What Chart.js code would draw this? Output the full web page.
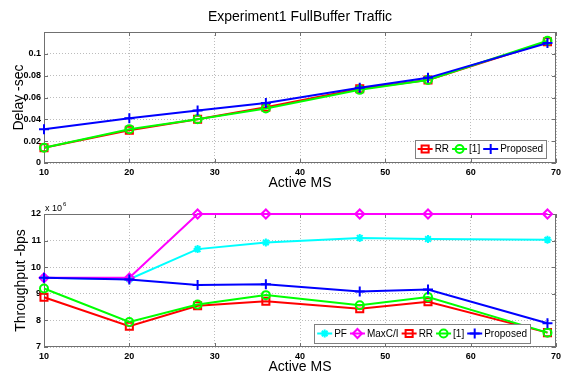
<!DOCTYPE html>
<html>
<head>
<meta charset="utf-8">
<script src="https://cdn.jsdelivr.net/npm/chart.js@4.4.0/dist/chart.umd.min.js"></script>
<style>
    body { margin: 0; background: #fff; overflow: hidden; }
    .box { position: absolute; left: 0; width: 567px; }
</style>
</head>
<body>
<div class="box" style="top:0;height:190px"><canvas id="delayChart"></canvas></div>
<div class="box" style="top:190px;height:182px"><canvas id="tputChart"></canvas></div>
<script>
// x values (number of active MS)
var activeMS = [10, 20, 28, 36, 47, 55, 69];
var xTicks = [10, 20, 30, 40, 50, 60, 70];

// Delay in seconds
var delayRR = [0.014, 0.030, 0.040, 0.051, 0.068, 0.076, 0.111];
var delayRef1 = [0.014, 0.031, 0.040, 0.050, 0.067, 0.076, 0.112];
var delayProposed = [0.031, 0.041, 0.048, 0.055, 0.069, 0.078, 0.110];
var delayTicks = [0, 0.02, 0.04, 0.06, 0.08, 0.1];

// Throughput in units of 10^6 bps
var tputPF = [9.6, 9.55, 10.68, 10.93, 11.1, 11.06, 11.03];
var tputMaxCI = [9.6, 9.6, 12, 12, 12, 12, 12];
var tputRR = [8.87, 7.78, 8.55, 8.72, 8.44, 8.7, 7.54];
var tputRef1 = [9.2, 7.94, 8.6, 8.95, 8.57, 8.88, 7.54];
var tputProposed = [9.6, 9.54, 9.33, 9.36, 9.09, 9.16, 7.89];
var tputTicks = [7, 8, 9, 10, 11, 12];

Chart.defaults.font.family = "'Liberation Sans', Arial, sans-serif";
Chart.defaults.color = '#000';

function pts(ys) {
    return ys.map(function (y, i) { return { x: activeMS[i], y: y }; });
}

function series(label, ys, color, style, radius, n) {
    return {
        label: label,
        data: pts(ys),
        borderColor: color,
        backgroundColor: 'rgba(0,0,0,0)',
        borderWidth: 2,
        pointStyle: style,
        pointRadius: radius,
        pointBorderWidth: 2,
        pointBackgroundColor: 'rgba(0,0,0,0)',
        tension: 0,
        clip: false,
        order: n
    };
}

// MATLAB-like box with inward tick marks
var axesBox = {
    id: 'axesBox',
    beforeDatasetsDraw: function (chart) {
        var ctx = chart.ctx, a = chart.chartArea;
        ctx.save();
        ctx.strokeStyle = '#707070';
        ctx.lineWidth = 1;
        ctx.strokeRect(a.left + 0.5, a.top + 0.5, a.right - a.left - 1, a.bottom - a.top - 1);
        ctx.beginPath();
        chart.scales.x.ticks.forEach(function (t) {
            var px = Math.round(chart.scales.x.getPixelForValue(t.value)) + 0.5;
            ctx.moveTo(px, a.bottom); ctx.lineTo(px, a.bottom - 4);
            ctx.moveTo(px, a.top); ctx.lineTo(px, a.top + 4);
        });
        chart.scales.y.ticks.forEach(function (t) {
            var py = Math.round(chart.scales.y.getPixelForValue(t.value)) + 0.5;
            ctx.moveTo(a.left, py); ctx.lineTo(a.left + 4, py);
            ctx.moveTo(a.right, py); ctx.lineTo(a.right - 4, py);
        });
        ctx.stroke();
        ctx.restore();
    }
};

// legend drawn inside the plot, lower right
var boxLegend = {
    id: 'boxLegend',
    afterDraw: function (chart, args, opts) {
        var ctx = chart.ctx, a = chart.chartArea;
        var items = chart.data.datasets;
        var lineLen = 15, gap = 2, itemGap = 3, pad = 3;
        ctx.save();
        ctx.font = opts.font;
        var widths = items.map(function (ds) { return lineLen + gap + ctx.measureText(ds.label).width; });
        var total = pad * 2 + itemGap * (items.length - 1);
        widths.forEach(function (w) { total += w; });
        var right = a.right - opts.right, bottom = a.bottom - opts.bottom;
        var left = right - total, top = bottom - opts.height;
        ctx.fillStyle = '#fff';
        ctx.fillRect(left, top, total, opts.height);
        ctx.strokeStyle = '#808080';
        ctx.lineWidth = 1;
        ctx.strokeRect(Math.round(left) + 0.5, Math.round(top) + 0.5, Math.round(total), Math.round(opts.height));
        var x = left + pad, cy = top + opts.height / 2;
        items.forEach(function (ds, i) {
            ctx.strokeStyle = ds.borderColor;
            ctx.fillStyle = 'rgba(0,0,0,0)';
            ctx.lineWidth = 2;
            ctx.beginPath();
            ctx.moveTo(x, cy); ctx.lineTo(x + lineLen, cy);
            ctx.stroke();
            Chart.helpers.drawPoint(ctx, {
                pointStyle: ds.pointStyle, radius: ds.pointRadius, borderWidth: 2, rotation: 0
            }, x + lineLen / 2, cy);
            ctx.fillStyle = '#000';
            ctx.textBaseline = 'middle';
            ctx.fillText(ds.label, x + lineLen + gap, cy + 0.5);
            x += widths[i] + itemGap;
        });
        ctx.restore();
    }
};

// "x 10^6" multiplier above the y axis
var expLabel = {
    id: 'expLabel',
    afterDraw: function (chart) {
        var ctx = chart.ctx, a = chart.chartArea;
        ctx.save();
        ctx.fillStyle = '#000';
        ctx.textBaseline = 'alphabetic';
        ctx.font = "9px 'Liberation Sans', Arial, sans-serif";
        ctx.fillText('x 10', a.left + 1, a.top - 3);
        var w = ctx.measureText('x 10').width;
        ctx.font = "6px 'Liberation Sans', Arial, sans-serif";
        ctx.fillText('6', a.left + 2 + w, a.top - 8);
        ctx.restore();
    }
};

var tickFont = { size: 9, weight: 'bold' };

function xAxis(height, titlePad) {
    return {
        type: 'linear',
        min: 10,
        max: 70,
        afterBuildTicks: function (s) { s.ticks = xTicks.map(function (v) { return { value: v }; }); },
        afterFit: function (s) { s.height = height; },
        grid: { color: '#bcbcbc', drawTicks: false },
        border: { display: false, dash: [1, 2] },
        ticks: { font: tickFont, padding: 4, maxRotation: 0 },
        title: { display: true, text: 'Active MS', font: { size: 14 }, padding: { top: 0, bottom: titlePad } }
    };
}

function yAxis(min, max, tickVals, title, titlePad, fmt) {
    return {
        min: min,
        max: max,
        afterBuildTicks: function (s) { s.ticks = tickVals.map(function (v) { return { value: v }; }); },
        afterFit: function (s) { s.width = 44; },
        grid: { color: '#bcbcbc', drawTicks: false },
        border: { display: false, dash: [1, 2] },
        ticks: { font: tickFont, padding: 3, callback: fmt },
        title: { display: true, text: title, font: { size: 14 }, padding: { top: titlePad, bottom: 0 } }
    };
}

new Chart(document.getElementById('delayChart').getContext('2d'), {
    type: 'line',
    data: {
        datasets: [
            series('RR', delayRR, '#ff0000', 'rect', 5, 3),
            series('[1]', delayRef1, '#00ff00', 'circle', 4, 2),
            series('Proposed', delayProposed, '#0000ff', 'cross', 5, 1)
        ]
    },
    options: {
        responsive: true,
        maintainAspectRatio: false,
        animation: false,
        layout: { padding: { left: 0, right: 11, top: 0, bottom: 0 } },
        scales: {
            x: xAxis(27, -2),
            y: yAxis(0, 0.12, delayTicks, 'Delay -sec', 10.5, function (v) {
                return String(Math.round(v * 100) / 100);
            })
        },
        plugins: {
            legend: { display: false },
            tooltip: { enabled: false },
            title: {
                display: true,
                fullSize: false,
                text: 'Experiment1 FullBuffer Traffic',
                font: { size: 14, weight: 'normal' },
                padding: { top: 9, bottom: 6.2 }
            },
            boxLegend: { font: "10px 'Liberation Sans', Arial, sans-serif", right: 10, bottom: 5, height: 18 }
        }
    },
    plugins: [axesBox, boxLegend]
});

new Chart(document.getElementById('tputChart').getContext('2d'), {
    type: 'line',
    data: {
        datasets: [
            series('PF', tputPF, '#00ffff', 'star', 4, 5),
            series('MaxC/I', tputMaxCI, '#ff00ff', 'rectRot', 4.5, 4),
            series('RR', tputRR, '#ff0000', 'rect', 5, 3),
            series('[1]', tputRef1, '#00ff00', 'circle', 4, 2),
            series('Proposed', tputProposed, '#0000ff', 'cross', 5, 1)
        ]
    },
    options: {
        responsive: true,
        maintainAspectRatio: false,
        animation: false,
        layout: { padding: { left: 0, right: 11, top: 24, bottom: 0 } },
        scales: {
            x: xAxis(25, -4),
            y: yAxis(7, 12, tputTicks, 'Throughput -bps', 13, function (v) { return String(v); })
        },
        plugins: {
            legend: { display: false },
            tooltip: { enabled: false },
            boxLegend: { font: "10px 'Liberation Sans', Arial, sans-serif", right: 26, bottom: 4, height: 19 }
        }
    },
    plugins: [axesBox, boxLegend, expLabel]
});
</script>
</body>
</html>
